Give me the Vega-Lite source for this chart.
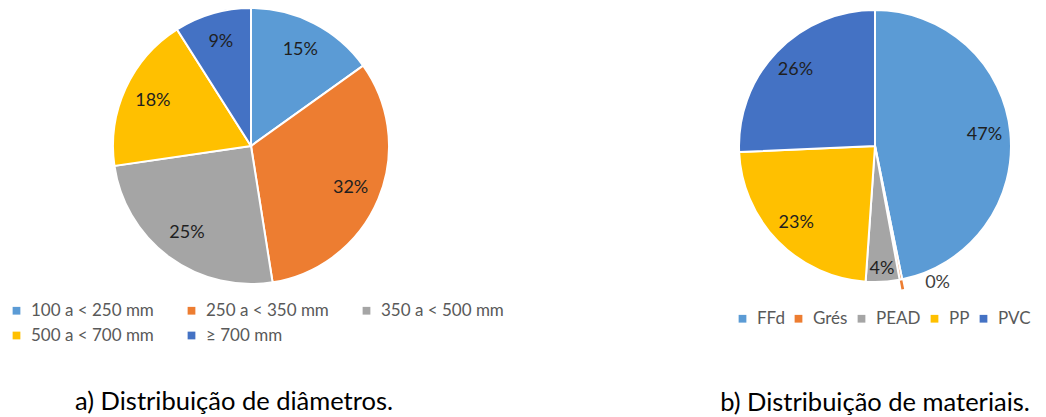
{
  "$schema": "https://vega.github.io/schema/vega-lite/v6.json",
  "background": "white",
  "padding": 0,
  "config": {
    "view": {"stroke": null},
    "font": "Lato",
    "concat": {"spacing": 200},
    "legend": {
      "orient": "none",
      "title": null,
      "direction": "horizontal",
      "symbolType": "square",
      "symbolSize": 60,
      "symbolStrokeWidth": 0,
      "labelFontSize": 17,
      "labelColor": "#595959",
      "labelFont": "Lato",
      "labelOffset": 6
    }
  },
  "datasets": {
    "diametros": [
      {"classe": "100 a < 250 mm", "ord": 1, "share": 0.151},
      {"classe": "250 a < 350 mm", "ord": 2, "share": 0.324},
      {"classe": "350 a < 500 mm", "ord": 3, "share": 0.252},
      {"classe": "500 a < 700 mm", "ord": 4, "share": 0.183},
      {"classe": "≥ 700 mm", "ord": 5, "share": 0.090}
    ],
    "materiais": [
      {"material": "FFd", "ord": 1, "share": 0.468},
      {"material": "Grés", "ord": 2, "share": 0.003},
      {"material": "PEAD", "ord": 3, "share": 0.040},
      {"material": "PP", "ord": 4, "share": 0.232},
      {"material": "PVC", "ord": 5, "share": 0.257}
    ]
  },
  "resolve": {"scale": {"color": "independent"}, "legend": {"color": "independent"}},
  "hconcat": [
    {
      "width": 502,
      "height": 290,
      "title": {"text": "a) Distribuição de diâmetros.", "orient": "bottom", "offset": 46, "dx": -17, "font": "Lato", "fontSize": 25.5, "fontWeight": "normal", "color": "#000000"},
      "data": {"name": "diametros"},
      "encoding": {
        "theta": {"field": "share", "type": "quantitative", "stack": true},
        "order": {"field": "ord", "type": "quantitative"}
      },
      "layer": [
        {
          "mark": {"type": "arc", "outerRadius": 138, "stroke": "white", "strokeWidth": 2},
          "encoding": {
            "color": {
              "field": "classe",
              "type": "nominal",
              "scale": {
                "domain": ["100 a < 250 mm", "250 a < 350 mm", "350 a < 500 mm", "500 a < 700 mm", "≥ 700 mm"],
                "range": ["#5B9BD5", "#ED7D31", "#A5A5A5", "#FFC000", "#4472C4"]
              },
              "legend": {"legendX": 8, "legendY": 301, "columns": 3, "columnPadding": 29, "rowPadding": 7}
            }
          }
        },
        {
          "mark": {"type": "text", "radius": 108, "fontSize": 18, "color": "#1f1f1f"},
          "encoding": {"text": {"field": "share", "type": "quantitative", "format": ".0%"}}
        }
      ]
    },
    {
      "width": 342,
      "height": 290,
      "title": {"text": "b) Distribuição de materiais.", "orient": "bottom", "offset": 64, "font": "Lato", "fontSize": 25.5, "fontWeight": "normal", "color": "#000000"},
      "data": {"name": "materiais"},
      "encoding": {
        "theta": {"field": "share", "type": "quantitative", "stack": true},
        "order": {"field": "ord", "type": "quantitative"}
      },
      "layer": [
        {
          "mark": {"type": "arc", "outerRadius": 136, "stroke": "white", "strokeWidth": 2},
          "encoding": {
            "color": {
              "field": "material",
              "type": "nominal",
              "scale": {
                "domain": ["FFd", "Grés", "PEAD", "PP", "PVC"],
                "range": ["#5B9BD5", "#ED7D31", "#A5A5A5", "#FFC000", "#4472C4"]
              },
              "legend": {"legendX": 30, "legendY": 309, "columnPadding": 5}
            }
          }
        },
        {
          "mark": {"type": "arc", "innerRadius": 137, "outerRadius": 146},
          "encoding": {
            "color": {"field": "material", "type": "nominal", "legend": null},
            "opacity": {"condition": {"test": "datum.material === 'Grés'", "value": 1}, "value": 0}
          }
        },
        {
          "mark": {"type": "text", "radius": 110, "fontSize": 18, "color": "#1f1f1f"},
          "encoding": {
            "text": {"field": "share", "type": "quantitative", "format": ".0%"},
            "opacity": {"condition": {"test": "datum.share >= 0.05", "value": 1}, "value": 0}
          }
        },
        {
          "mark": {"type": "text", "radius": 123, "fontSize": 18, "color": "#1f1f1f"},
          "encoding": {
            "text": {"field": "share", "type": "quantitative", "format": ".0%"},
            "opacity": {"condition": {"test": "datum.material === 'PEAD'", "value": 1}, "value": 0}
          }
        },
        {
          "mark": {"type": "text", "radius": 150, "dx": 34, "dy": -10, "fontSize": 18, "color": "#404040"},
          "encoding": {
            "text": {"field": "share", "type": "quantitative", "format": ".0%"},
            "opacity": {"condition": {"test": "datum.material === 'Grés'", "value": 1}, "value": 0}
          }
        }
      ]
    }
  ]
}
